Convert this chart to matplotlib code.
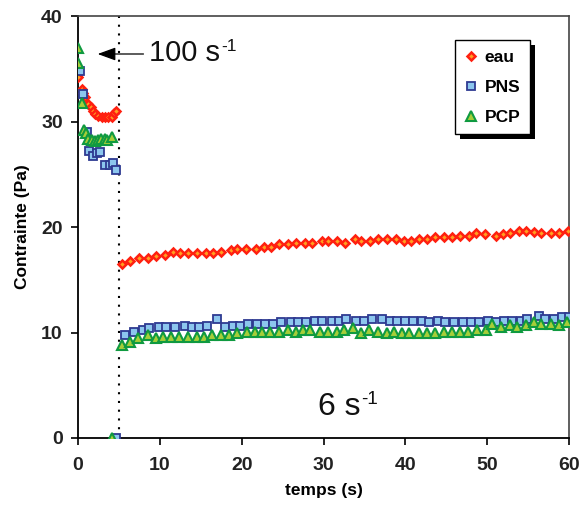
import matplotlib
matplotlib.use("Agg")
import matplotlib.pyplot as plt
from matplotlib.patches import Rectangle

plt.rcParams['font.family'] = ['Liberation Sans', 'DejaVu Sans']

# ---------------- data ----------------
eau_t = [0.0, 0.05, 0.45, 0.65, 0.85, 1.25, 1.55, 1.8, 2.1, 2.5, 2.9, 3.3, 3.7, 4.1, 4.4, 4.7,
         5.4, 6.4, 7.5, 8.5, 9.5, 10.6, 11.6, 12.5, 13.5, 14.6, 15.6, 16.5, 17.5, 18.7, 19.4,
         20.5, 21.7, 22.7, 23.6, 24.6, 25.6, 26.6, 27.7, 28.6, 29.8, 30.6, 31.7, 32.6, 33.8, 34.6,
         35.7, 36.7, 37.7, 38.8, 39.8, 40.7, 41.7, 42.6, 43.6, 44.7, 45.7, 46.7, 47.8, 48.6, 49.7,
         51.1, 51.9, 52.8, 53.9, 54.8, 55.7, 56.6, 57.8, 58.8, 59.9]
eau_v = [34.5, 34.2, 33.05, 32.7, 32.3, 31.7, 31.4, 31.0, 30.7, 30.5, 30.4, 30.4, 30.4, 30.45, 30.8, 30.95,
         16.46, 16.78, 17.09, 17.09, 17.25, 17.35, 17.63, 17.5, 17.5, 17.5, 17.5, 17.5, 17.66, 17.8, 17.95,
         17.95, 17.95, 18.1, 18.1, 18.35, 18.35, 18.5, 18.5, 18.5, 18.65, 18.65, 18.67, 18.5, 18.9, 18.7,
         18.67, 18.86, 18.86, 18.86, 18.67, 18.67, 18.86, 18.86, 19.02, 19.02, 19.02, 19.15, 19.15, 19.46, 19.3,
         19.15, 19.3, 19.46, 19.62, 19.62, 19.56, 19.46, 19.46, 19.46, 19.62]

pns_t = [0.25, 0.55, 1.05, 1.3, 1.8, 2.3, 2.7, 3.3, 3.9, 4.3, 4.7, 4.6,
         5.8, 6.8, 7.9, 8.7, 9.9, 10.8, 11.8, 13.1, 13.9, 14.8, 15.8, 17.0, 17.9, 18.9, 19.8,
         20.8, 21.9, 22.9, 23.8, 24.8, 26.0, 26.9, 27.9, 28.9, 29.8, 31.0, 31.9, 32.8, 34.0, 35.0,
         35.9, 37.1, 38.1, 39.0, 40.0, 40.9, 42.0, 42.9, 44.0, 44.9, 45.9, 47.0, 48.0, 49.0, 50.1,
         51.1, 52.0, 53.0, 54.1, 54.9, 56.3, 57.1, 58.2, 59.1, 60.0]
pns_v = [34.8, 32.6, 29.0, 27.2, 26.7, 27.0, 27.1, 25.9, 25.9, 26.1, 25.4, 0.0,
         9.76, 10.08, 10.24, 10.4, 10.52, 10.52, 10.52, 10.65, 10.52, 10.52, 10.65, 11.28, 10.52, 10.65, 10.65,
         10.8, 10.8, 10.8, 10.8, 10.96, 10.96, 10.96, 10.96, 11.12, 11.12, 11.12, 11.12, 11.28, 11.12, 11.12,
         11.28, 11.28, 11.12, 11.12, 11.12, 11.12, 11.12, 10.96, 11.12, 10.96, 10.96, 10.96, 10.96, 10.96, 11.12,
         10.96, 11.12, 11.12, 11.12, 11.28, 11.56, 11.28, 11.28, 11.44, 11.44]

pcp_t = [0.0, 0.05, 0.45, 0.75, 1.0, 1.25, 1.65, 2.05, 2.45, 2.85, 3.25, 3.55, 4.1, 4.2,
         5.4, 6.4, 7.3, 8.5, 9.5, 10.4, 11.4, 12.3, 13.5, 14.5, 15.4, 16.4, 17.5, 18.5, 19.4,
         20.6, 21.6, 22.5, 23.5, 24.6, 25.6, 26.6, 27.5, 28.4, 29.6, 30.6, 31.7, 32.5, 33.6, 34.6,
         35.6, 36.7, 37.7, 38.6, 39.6, 40.5, 41.7, 42.7, 43.6, 44.7, 45.7, 46.7, 47.6, 48.7, 49.8,
         50.6, 51.7, 52.8, 53.6, 54.8, 55.7, 56.6, 57.8, 58.8, 59.7]
pcp_v = [37.0, 35.5, 31.8, 29.2, 28.9, 28.3, 28.25, 28.15, 28.25, 28.3, 28.3, 28.25, 28.5, 0.0,
         8.82, 9.13, 9.45, 9.76, 9.45, 9.6, 9.6, 9.6, 9.6, 9.6, 9.6, 9.76, 9.76, 9.76, 9.92,
         10.08, 10.08, 10.08, 10.08, 10.08, 10.24, 10.08, 10.24, 10.24, 10.08, 10.08, 10.08, 10.24, 10.4, 9.92,
         10.24, 10.08, 9.92, 10.08, 9.92, 9.92, 9.92, 9.92, 9.92, 10.08, 10.08, 10.08, 10.08, 10.24, 10.24,
         10.78, 10.55, 10.68, 10.55, 10.68, 11.0, 10.78, 10.78, 10.68, 11.0]

series_names = ['eau', 'PNS', 'PCP']
x_ticks = [0, 10, 20, 30, 40, 50, 60]
y_ticks = [0, 10, 20, 30, 40]
switch_time = 5.0

# ---------------- figure ----------------
fig = plt.figure(figsize=(5.8, 5.07), dpi=100)
ax = fig.add_axes([0.1345, 0.1361, 0.8466, 0.8323])

ax.plot(eau_t, eau_v, linestyle='none', marker='D', markersize=4.2,
        markerfacecolor='#FFA020', markeredgecolor='#FF2010', markeredgewidth=1.8,
        label=series_names[0], zorder=3)
ax.plot(pns_t, pns_v, linestyle='none', marker='s', markersize=6.3,
        markerfacecolor='#8CC6EE', markeredgecolor='#2E3A92', markeredgewidth=1.3,
        label=series_names[1], zorder=4)
ax.plot(pcp_t, pcp_v, linestyle='none', marker='^', markersize=6.8,
        markerfacecolor='#A6CE39', markeredgecolor='#0F9A40', markeredgewidth=1.5,
        label=series_names[2], zorder=5)

ax.axvline(switch_time, color='black', linewidth=1.5, linestyle=(0, (1, 3.2)), zorder=2)

ax.set_xlim(0, 60)
ax.set_ylim(0, 40)
ax.set_xticks(x_ticks)
ax.set_yticks(y_ticks)
ax.tick_params(axis='both', direction='out', length=5, width=1.2,
               labelsize=14, colors='black')
ax.tick_params(axis='x', pad=9)
ax.tick_params(axis='y', pad=6)
for lab in ax.get_xticklabels() + ax.get_yticklabels():
    lab.set_fontweight('bold')
    lab.set_color('#222222')

for side in ['left', 'bottom']:
    ax.spines[side].set_linewidth(1.3)
    ax.spines[side].set_color('black')
for side in ['top', 'right']:
    ax.spines[side].set_linewidth(1.2)
    ax.spines[side].set_color('#444444')

ax.set_xlabel('temps (s)', fontsize=12.5, fontweight='bold', labelpad=6)
ax.set_ylabel('Contrainte (Pa)', fontsize=12.5, fontweight='bold', labelpad=8)

# annotations
ax.annotate('', xy=(2.4, 36.4), xytext=(8.0, 36.4),
            arrowprops=dict(arrowstyle='-|>,head_length=1.1,head_width=0.4',
                            color='black', lw=0.9, shrinkA=0, shrinkB=0))
t100 = ax.text(8.7, 35.7, '100 s', fontsize=21, va='baseline', ha='left', color='#111111')
ax.annotate('-1', xy=(1, 0), xycoords=t100, xytext=(0.5, 11.5), textcoords='offset points',
            fontsize=12.5, va='baseline', ha='left', color='#111111')
t6 = ax.text(29.3, 2.2, '6 s', fontsize=23, va='baseline', ha='left', color='#111111')
ax.annotate('-1', xy=(1, 0), xycoords=t6, xytext=(0.5, 12.5), textcoords='offset points',
            fontsize=13.5, va='baseline', ha='left', color='#111111')

leg = ax.legend(loc='upper left', bbox_to_anchor=(0.768, 0.943), borderaxespad=0,
                frameon=True, fancybox=False, edgecolor='black', framealpha=1,
                borderpad=0.55, labelspacing=0.85, handlelength=0.7, handletextpad=0.45,
                prop={'size': 12.5, 'weight': 'bold'})
leg.get_frame().set_linewidth(1.0)
leg.set_zorder(10)

fig.canvas.draw()
bb = leg.get_window_extent()
shadow = Rectangle((bb.x0 + 5, bb.y0 - 5), bb.width, bb.height, transform=None,
                   facecolor='black', edgecolor='none', zorder=9.5, clip_on=False)
ax.add_artist(shadow)

fig.savefig('out.png', dpi=100)
